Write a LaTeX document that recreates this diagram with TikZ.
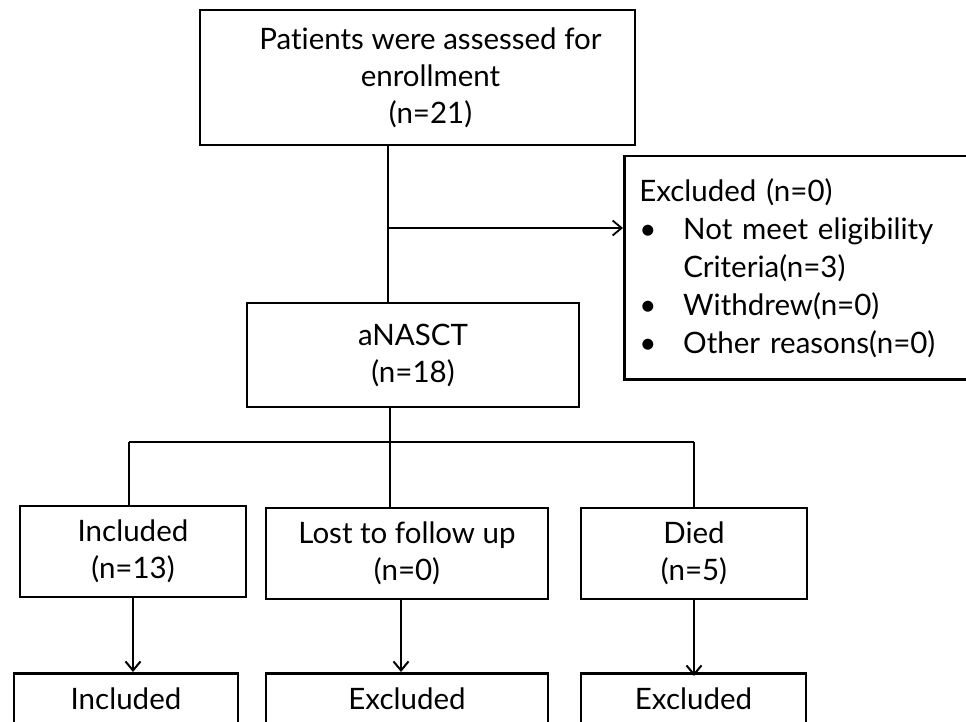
\documentclass[tikz,border=0pt]{standalone}
\usepackage{fontspec}
\setmainfont{Lato}[Ligatures=NoCommon]
\usetikzlibrary{arrows.meta}
\begin{document}
\begin{tikzpicture}[x=1pt,y=-1pt,
  txt/.style={font=\fontsize{29.5}{37}\selectfont},
  box/.style={draw, line width=2.5pt, inner sep=0pt, align=center, txt},
  conn/.style={line width=2pt},
  arr/.style={line width=2pt, -{Straight Barb[length=9pt,width=15pt]}},
]
\useasboundingbox (0,0) rectangle (966,722);
\fill[white] (0,0) rectangle (966,722);
\clip (0,0) rectangle (966,722);

% top box
\node[box, minimum width=435pt, minimum height=135pt] (top) at (417.5,77.5)
  {\hspace*{26pt}Patients were assessed for\\\hspace*{26pt}enrollment\\\hspace*{26pt}(n=21)};
% aNASCT
\node[box, minimum width=332pt, minimum height=104pt] (anasct) at (413,355)
  {aNASCT\\(n=18)};
% excluded side box
\node[draw, line width=2.5pt, anchor=north west, minimum height=223pt,
      text width=370pt, inner xsep=15pt, inner ysep=0pt, align=left,
      font=\fontsize{29.5}{38}\selectfont] (excl) at (623,155)
  {Excluded (n=0)\\
   \makebox[44pt][l]{•}Not meet eligibility\\
   \hspace*{44pt}Criteria(n=3)\\
   \makebox[44pt][l]{•}Withdrew(n=0)\\
   \makebox[44pt][l]{•}Other reasons(n=0)};

% second row
\node[box, minimum width=226pt, minimum height=91pt] (inc) at (133,551.5) {Included\\(n=13)};
\node[box, minimum width=282pt, minimum height=91pt] (lost) at (407,553.5) {Lost to follow up\\(n=0)};
\node[box, minimum width=226pt, minimum height=91pt] (died) at (694,553.5) {Died\\(n=5)};

% bottom row (cut off by the picture edge)
\node[box, anchor=north, minimum width=224pt, text height=36pt, text depth=60pt] (binc) at (126,672) {Included};
\node[box, anchor=north, minimum width=282pt, text height=36pt, text depth=60pt] (bexa) at (407,672) {Excluded};
\node[box, anchor=north, minimum width=225pt, text height=36pt, text depth=60pt] (bexb) at (693.5,672) {Excluded};

% connectors
\coordinate (vx) at (388,0);
\coordinate (br) at (388,228);
\coordinate (hb) at (390,442);
\draw[conn] (top.south -| vx) -- (anasct.north -| vx);
\draw[line width=1.8pt, -{Straight Barb[length=9pt,width=15pt]}] (br) -- (br -| excl.west);
\draw[conn] (anasct.south -| hb) -- (hb);
\draw[conn] (hb -| inc.north) ++(-4,0) coordinate (hl) -- (hb -| died.north);
\draw[conn] (hl) -- (hl |- inc.north);
\draw[conn] (hb) -- (hb |- lost.north);
\draw[conn] (hb -| died.north) -- (died.north);

\draw[arr] (inc.south) -- (inc.south |- binc.north);
\draw[arr] ([xshift=-6pt]lost.south) -- ([xshift=-6pt]lost.south |- bexa.north);
\draw[arr] (died.south) -- ([yshift=-4pt]died.south |- bexb.north);
\end{tikzpicture}
\end{document}
